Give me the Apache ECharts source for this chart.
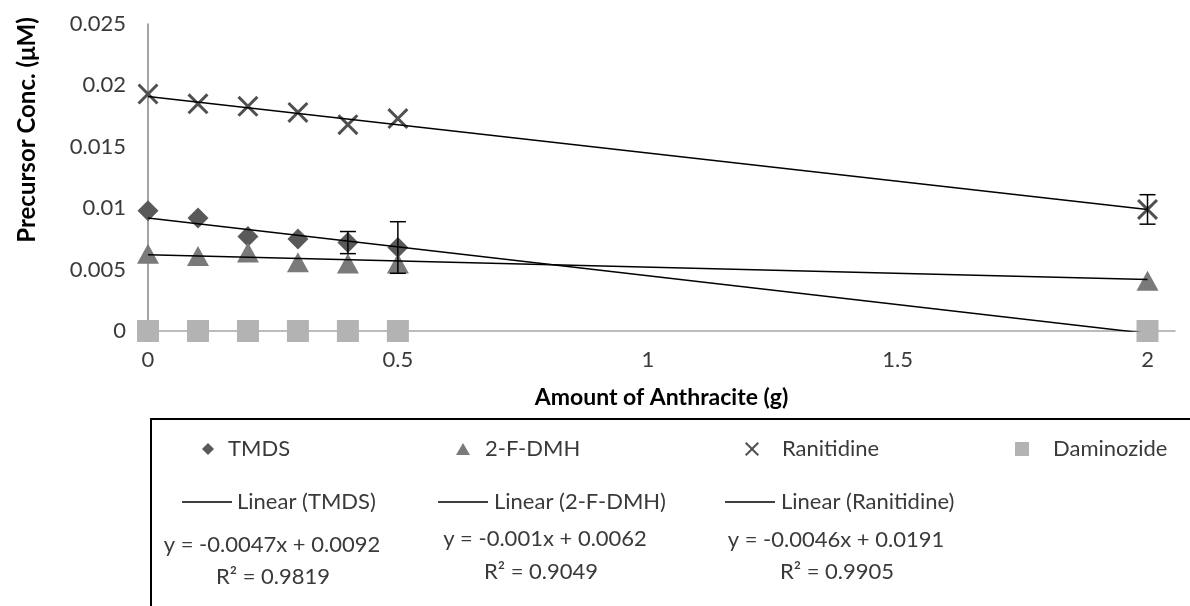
<!DOCTYPE html>
<html>
<head>
<meta charset="utf-8">
<script src="https://cdn.jsdelivr.net/npm/echarts@6/dist/echarts.min.js"></script>
<style>
  html, body { margin: 0; padding: 0; background: #fff; }
  #divChart { width: 1190px; height: 606px; }
</style>
</head>
<body>
<div id="divChart"></div>
<script>
// values
var xValues = [0, 0.1, 0.2, 0.3, 0.4, 0.5, 2];
var tmds = [0.0098, 0.0092, 0.0077, 0.0075, 0.0072, 0.0068, 0];
var fdmh = [0.0063, 0.0061, 0.0064, 0.0056, 0.0055, 0.0055, 0.0041];
var ranitidine = [0.0193, 0.0185, 0.0183, 0.0178, 0.0168, 0.0173, 0.0099];
var daminozide = [0, 0, 0, 0, 0, 0, 0];
var tmdsErr = [0, 0, 0, 0, 0.0009, 0.0021, 0];
var ranitidineErr = [0, 0, 0, 0, 0, 0, 0.0012];

// trendline equations as printed in the legend (TMDS, 2-F-DMH, Ranitidine)
var trendNames = ['TMDS', '2-F-DMH', 'Ranitidine'];
var trendSlope = [-0.0047, -0.001, -0.0046];
var trendIntercept = [0.0092, 0.0062, 0.0191];
var trendR2 = ['0.9819', '0.9049', '0.9905'];
var trendEq = ['y = -0.0047x + 0.0092', 'y = -0.001x + 0.0062', 'y = -0.0046x + 0.0191'];

var FONT = 'Lato';
var TXT = '#3a3a3a';
var XMARK = 'path://M2,0 L10,8 L18,0 L20,2 L12,10 L20,18 L18,20 L10,12 L2,20 L0,18 L8,10 L0,2 Z';

function pairs(ys) {
    return xValues.map(function (x, i) { return [x, ys[i]]; });
}

function trendData(k) {
    return [[0, trendIntercept[k]], [2, trendSlope[k] * 2 + trendIntercept[k]]];
}

function errData(ys, errs) {
    return xValues.map(function (x, i) { return [x, ys[i], errs[i]]; });
}

function renderErr(params, api) {
    var e = api.value(2);
    if (!e) return null;
    var x = api.value(0), y = api.value(1);
    var top = api.coord([x, y + e]);
    var bot = api.coord([x, y - e]);
    var st = { stroke: '#000', lineWidth: 1.5 };
    return {
        type: 'group',
        children: [
            { type: 'line', shape: { x1: top[0], y1: top[1], x2: bot[0], y2: bot[1] }, style: st },
            { type: 'line', shape: { x1: top[0] - 8, y1: top[1], x2: top[0] + 8, y2: top[1] }, style: st },
            { type: 'line', shape: { x1: bot[0] - 8, y1: bot[1], x2: bot[0] + 8, y2: bot[1] }, style: st }
        ]
    };
}

var chart = echarts.init(document.getElementById('divChart'));

function legendFor(name, left, top, w, h, pad, icon) {
    var item = { name: name };
    if (icon) item.icon = icon;
    return {
        data: [item],
        left: left,
        top: top,
        itemWidth: w,
        itemHeight: h,
        padding: 0,
        selectedMode: false,
        textStyle: { fontFamily: FONT, fontSize: 22, color: TXT, padding: [0, 0, 0, pad] }
    };
}

var graphics = [
    {
        type: 'rect',
        shape: { x: 151, y: 419, width: 1100, height: 250 },
        style: { fill: 'none', stroke: '#000', lineWidth: 2 },
        silent: true
    },
    {
        type: 'text',
        x: 27, y: 130, rotation: Math.PI / 2,
        style: {
            text: 'Precursor Conc. (μM)', fontFamily: FONT, fontSize: 24, fontWeight: 'bold',
            fill: '#000', align: 'center', verticalAlign: 'middle'
        }
    }
];
var eqX = [272, 545, 836];
var eqY = [545, 539, 540];
var r2X = [273, 541, 837];
var r2Y = [577, 572, 572];
for (var k = 0; k < 3; k++) {
    graphics.push({
        type: 'text', x: eqX[k], y: eqY[k],
        style: { text: trendEq[k], fontFamily: FONT, fontSize: 22, fill: TXT, align: 'center', verticalAlign: 'middle' }
    });
    graphics.push({
        type: 'text', x: r2X[k], y: r2Y[k],
        style: { text: 'R² = ' + trendR2[k], fontFamily: FONT, fontSize: 22, fill: TXT, align: 'center', verticalAlign: 'middle' }
    });
}

var LINEICON = 'path://M0,0 L100,0 L100,3 L0,3 Z';

var option = {
    animation: false,
    grid: { left: 148, right: 15, top: 24, bottom: 275 },
    xAxis: {
        type: 'value',
        min: 0,
        max: 2.055,
        interval: 0.5,
        name: 'Amount of Anthracite (g)',
        nameLocation: 'middle',
        nameGap: 55,
        nameTextStyle: { fontFamily: FONT, fontSize: 23, fontWeight: 'bold', color: '#000' },
        splitLine: { show: false },
        axisTick: { show: false },
        axisLine: { onZero: false, lineStyle: { color: '#a6a6a6', width: 1.5 } },
        axisLabel: { fontFamily: FONT, fontSize: 22, color: TXT, margin: 18, showMaxLabel: false }
    },
    yAxis: {
        type: 'value',
        min: 0,
        max: 0.025,
        interval: 0.005,
        splitLine: { show: false },
        axisTick: { show: false },
        axisLine: { show: true, lineStyle: { color: '#868686', width: 1.5 } },
        axisLabel: { fontFamily: FONT, fontSize: 22, color: TXT, margin: 22 }
    },
    legend: [
        legendFor('TMDS', 202, 438, 12, 12, 9),
        legendFor('2-F-DMH', 456, 438, 14, 12, 10),
        legendFor('Ranitidine', 745, 438, 14, 14, 18),
        legendFor('Daminozide', 1015, 438, 14, 14, 19),
        legendFor('Linear (TMDS)', 182, 491, 50, 1.5, 0, LINEICON),
        legendFor('Linear (2-F-DMH)', 438, 491, 52, 1.5, 0, LINEICON),
        legendFor('Linear (Ranitidine)', 725, 491, 52, 1.5, 0, LINEICON)
    ],
    graphic: graphics,
    series: [
        {
            name: 'TMDS', type: 'scatter', symbol: 'diamond', symbolSize: 21, z: 2,
            itemStyle: { color: '#595959', opacity: 1 }, data: pairs(tmds)
        },
        {
            name: '2-F-DMH', type: 'scatter', symbol: 'triangle', symbolSize: [22, 20], z: 3,
            itemStyle: { color: '#7a7a7a', opacity: 1 }, data: pairs(fdmh)
        },
        {
            name: 'Ranitidine', type: 'scatter', symbol: XMARK, symbolSize: 21, z: 3,
            itemStyle: { color: '#505050', opacity: 1 }, data: pairs(ranitidine)
        },
        {
            name: 'Daminozide', type: 'scatter', symbol: 'rect', symbolSize: 22, z: 4,
            itemStyle: { color: '#b3b3b3', opacity: 1 }, data: pairs(daminozide)
        },
        {
            type: 'custom', renderItem: renderErr, silent: true, z: 5,
            data: errData(tmds, tmdsErr)
        },
        {
            type: 'custom', renderItem: renderErr, silent: true, z: 5,
            data: errData(ranitidine, ranitidineErr)
        },
        {
            name: 'Linear (' + trendNames[0] + ')', type: 'line', symbol: 'none', clip: true, z: 6,
            lineStyle: { color: '#000', width: 1.5 }, itemStyle: { color: '#000' }, data: trendData(0)
        },
        {
            name: 'Linear (' + trendNames[1] + ')', type: 'line', symbol: 'none', clip: true, z: 6,
            lineStyle: { color: '#000', width: 1.5 }, itemStyle: { color: '#000' }, data: trendData(1)
        },
        {
            name: 'Linear (' + trendNames[2] + ')', type: 'line', symbol: 'none', clip: true, z: 6,
            lineStyle: { color: '#000', width: 1.5 }, itemStyle: { color: '#000' }, data: trendData(2)
        }
    ]
};
chart.setOption(option);
</script>
</body>
</html>
